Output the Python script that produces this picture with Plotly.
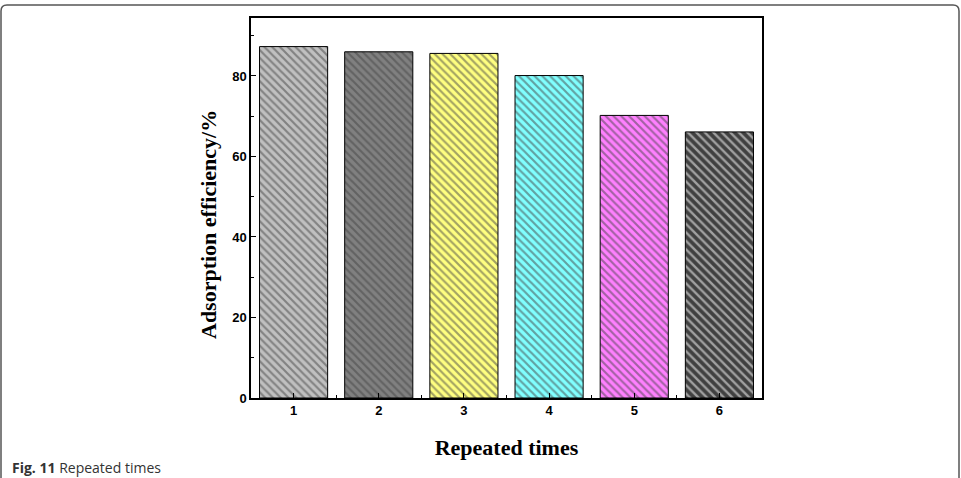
import plotly.graph_objects as go

categories = [1, 2, 3, 4, 5, 6]
efficiency = [87.3, 86.0, 85.6, 80.1, 70.2, 66.1]
bar_colors = ["#c0c0c0", "#808080", "#ffff80", "#80ffff", "#ff80ff", "#404040"]
hatch_sizes = [5.5, 5.5, 5.5, 5.5, 5.5, 6]
y_ticks = [0, 20, 40, 60, 80]

W, H = 961, 478
ml, mr, mt, mb = 251, 199, 18, 80
pw, ph = W - ml - mr, H - mt - mb

def px_x(p):
    return (p - ml) / pw

def px_y(p):
    return 1 - (p - mt) / ph

fig = go.Figure()
fig.add_trace(go.Bar(
    x=categories, y=efficiency, width=0.8,
    marker=dict(
        color=bar_colors,
        line=dict(color="black", width=1),
        pattern=dict(shape="\\", fillmode="overlay", fgcolor="black",
                     size=hatch_sizes, solidity=0.4),
    ),
    showlegend=False,
))

tickfont = dict(family="Liberation Sans, Arial", size=13, color="black", weight="bold")
fig.update_xaxes(
    range=[0.5, 6.5], tickmode="array", tickvals=categories,
    ticktext=[str(c) for c in categories],
    ticks="inside", ticklen=5, tickwidth=1, tickcolor="black",
    minor=dict(tickvals=[1.5, 2.5, 3.5, 4.5, 5.5], ticks="inside", ticklen=3, tickcolor="black"),
    showline=True, linecolor="black", linewidth=1.5, mirror=True,
    showgrid=False, zeroline=False, tickfont=tickfont,
    title=dict(text="<b>Repeated times</b>", standoff=22,
               font=dict(family="Liberation Serif, Times New Roman", size=22, color="black")),
)
fig.update_yaxes(
    range=[0, 94.4], tickmode="array", tickvals=y_ticks,
    ticks="inside", ticklen=5, tickwidth=1, tickcolor="black",
    minor=dict(tickvals=[10, 30, 50, 70, 90], ticks="inside", ticklen=3, tickcolor="black"),
    showline=True, linecolor="black", linewidth=1.5, mirror=True,
    showgrid=False, zeroline=False, tickfont=tickfont,
)

# y-axis title placed as annotation to match its offset position
fig.add_annotation(
    x=px_x(208), y=px_y(225), xref="paper", yref="paper",
    xanchor="center", yanchor="middle", textangle=-90, showarrow=False,
    text="<b>Adsorption efficiency/%</b>",
    font=dict(family="Liberation Serif, Times New Roman", size=22, color="black"),
)

# outer panel frame (rounded top corners)
x0, x1, y0, y1, r = px_x(1), px_x(959), px_y(5), px_y(478), 6 / pw
ry = 6 / ph
path = (f"M {x0},{y1} L {x0},{y0 - ry} Q {x0},{y0} {x0 + r},{y0} "
        f"L {x1 - r},{y0} Q {x1},{y0} {x1},{y0 - ry} L {x1},{y1}")
fig.add_shape(type="path", xref="paper", yref="paper", path=path,
              line=dict(color="#555555", width=1.5))

fig.add_annotation(
    x=px_x(10), y=px_y(468), xref="paper", yref="paper", xanchor="left", yanchor="middle",
    text="<b>Fig. 11</b> Repeated times", showarrow=False,
    font=dict(family="Open Sans", size=14, color="#333333"),
)

fig.update_layout(
    width=W, height=H, margin=dict(l=ml, r=mr, t=mt, b=mb),
    plot_bgcolor="white", paper_bgcolor="white", bargap=0.2,
)
fig.write_html("out.html")
